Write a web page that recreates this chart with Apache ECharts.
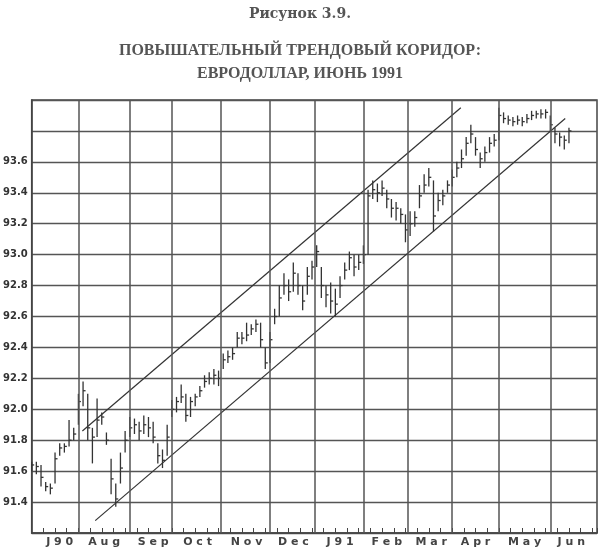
<!DOCTYPE html>
<html><head><meta charset="utf-8">
<script src="https://cdn.jsdelivr.net/npm/echarts@6/dist/echarts.min.js"></script>
<style>html,body{margin:0;padding:0;background:#fff}#c{width:600px;height:551px}</style>
</head><body><div id="c"></div>
<script>
// bar i sits at trading day 2*i
const closes = [91.64,91.63,91.56,91.50,91.49,91.68,91.75,91.76,91.80,91.84,92.05,92.12,91.88,91.82,91.93,91.95,91.80,91.55,91.42,91.62,
91.80,91.88,91.90,91.86,91.90,91.88,91.82,91.70,91.67,91.82,92.00,92.05,92.08,91.96,92.05,92.08,92.12,92.18,92.20,92.22,
92.20,92.32,92.34,92.36,92.46,92.46,92.48,92.52,92.55,92.45,92.30,92.45,92.60,92.72,92.80,92.76,92.88,92.80,92.70,92.86,
92.92,93.02,92.80,92.74,92.70,92.68,92.80,92.90,92.98,92.92,92.95,93.00,93.38,93.42,93.40,93.43,93.36,93.30,93.30,93.26,
93.16,93.20,93.24,93.38,93.45,93.50,93.25,93.35,93.38,93.45,93.50,93.56,93.62,93.72,93.78,93.68,93.62,93.66,93.72,93.74,
93.90,93.88,93.87,93.86,93.87,93.86,93.88,93.90,93.91,93.91,93.92,93.84,93.78,93.76,93.74,93.80];
const highs = [91.66,91.66,91.64,91.53,91.52,91.72,91.78,91.78,91.93,91.88,92.10,92.18,92.10,91.88,92.07,91.98,91.85,91.68,91.52,91.72,
91.86,91.95,91.94,91.92,91.96,91.95,91.92,91.78,91.74,91.90,92.06,92.08,92.16,92.10,92.08,92.10,92.15,92.22,92.24,92.26,
92.25,92.36,92.38,92.40,92.50,92.50,92.56,92.55,92.58,92.56,92.40,92.50,92.65,92.80,92.88,92.84,92.95,92.88,92.80,92.92,
92.96,93.06,92.92,92.80,92.82,92.78,92.86,92.95,93.02,93.00,93.00,93.06,93.42,93.48,93.46,93.48,93.42,93.36,93.34,93.30,
93.26,93.28,93.28,93.45,93.52,93.56,93.48,93.40,93.42,93.48,93.55,93.60,93.68,93.76,93.84,93.76,93.66,93.70,93.76,93.78,
93.95,93.92,93.90,93.89,93.90,93.89,93.91,93.93,93.93,93.94,93.94,93.90,93.82,93.79,93.77,93.82];
const lows = [91.60,91.58,91.50,91.47,91.45,91.52,91.70,91.72,91.76,91.80,91.90,92.02,91.80,91.65,91.82,91.90,91.77,91.45,91.37,91.52,
91.72,91.82,91.84,91.80,91.84,91.82,91.78,91.65,91.62,91.70,91.95,91.98,92.04,91.92,91.95,92.02,92.08,92.14,92.16,92.16,
92.15,92.26,92.30,92.32,92.40,92.42,92.44,92.48,92.50,92.40,92.26,92.30,92.55,92.60,92.74,92.70,92.76,92.74,92.64,92.74,
92.84,92.92,92.72,92.66,92.62,92.60,92.72,92.84,92.90,92.86,92.90,92.94,93.00,93.36,93.34,93.38,93.30,93.24,93.22,93.20,
93.08,93.12,93.18,93.30,93.40,93.44,93.15,93.28,93.32,93.40,93.44,93.50,93.56,93.64,93.72,93.64,93.56,93.60,93.66,93.70,
93.74,93.85,93.84,93.83,93.84,93.83,93.85,93.87,93.88,93.88,93.88,93.80,93.72,93.70,93.68,93.72];
const monthBounds = [20, 42, 60, 81, 102, 121, 142, 161, 180, 200, 222];
const monthLabels = ['J90','Aug','Sep','Oct','Nov','Dec','J91','Feb','Mar','Apr','May','Jun'];
const monthMids = [12, 31, 52, 71, 92, 112, 132, 152, 171, 190, 211, 231];
const upperChannel = [[21.7, 91.86], [183.7, 93.95]];
const lowerChannel = [[27.2, 91.28], [228.4, 93.88]];

const bars = closes.map((c, i) => [2 * i, highs[i], lows[i], c]);
const chart = echarts.init(document.getElementById('c'));
chart.setOption({
  animation: false,
  backgroundColor: '#fff',
  title: [
    {text: 'Рисунок 3.9.', left: 'center', top: 2, textStyle: {fontFamily: 'DejaVu Serif', fontSize: 14, fontWeight: 'bold', color: '#555'}},
    {text: 'ПОВЫШАТЕЛЬНЫЙ ТРЕНДОВЫЙ КОРИДОР:\nЕВРОДОЛЛАР, ИЮНЬ 1991', left: 'center', top: 34,
     textStyle: {fontFamily: 'Liberation Serif', fontSize: 16, fontWeight: 'bold', color: '#555', lineHeight: 23}}
  ],
  grid: {left: 29, right: 3, top: 100, bottom: 18, show: true, borderColor: '#444', borderWidth: 1.5},
  xAxis: {type: 'value', min: 0, max: 242, interval: 5,
    axisLine: {show: true, lineStyle: {color: '#444', width: 1.5}},
    axisTick: {show: true, inside: true, length: 5, lineStyle: {color: '#444'}},
    axisLabel: {show: false}, splitLine: {show: false}},
  yAxis: {type: 'value', min: 91.2, max: 94.0, interval: 0.2,
    axisLine: {show: true, lineStyle: {color: '#444', width: 1.5}}, axisTick: {show: false},
    splitLine: {lineStyle: {color: '#555', width: 1.3}},
    axisLabel: {margin: 4, color: '#333', fontFamily: 'DejaVu Sans', fontWeight: 'bold', fontSize: 10,
      formatter: v => (v < 91.35 || v > 93.65) ? '' : v.toFixed(1)}},
  series: [
    {type: 'custom', data: bars, encode: {x: 0, y: [1, 2, 3]},
     renderItem: (params, api) => {
       const hi = api.coord([api.value(0), api.value(1)]);
       const lo = api.coord([api.value(0), api.value(2)]);
       const cl = api.coord([api.value(0), api.value(3)]);
       const st = {stroke: '#333', lineWidth: 1.3};
       return {type: 'group', children: [
         {type: 'line', shape: {x1: hi[0], y1: hi[1], x2: lo[0], y2: lo[1]}, style: st},
         {type: 'line', shape: {x1: cl[0], y1: cl[1], x2: cl[0] + 2.5, y2: cl[1]}, style: st}
       ]};
     },
     markLine: {silent: true, symbol: 'none', label: {show: false},
       lineStyle: {color: '#555', type: 'solid', width: 1.5},
       data: monthBounds.map(v => ({xAxis: v}))}
    },
    {type: 'line', data: upperChannel, symbol: 'none', lineStyle: {color: '#333', width: 1.2}},
    {type: 'line', data: lowerChannel, symbol: 'none', lineStyle: {color: '#333', width: 1.2}},
    {type: 'custom', data: monthLabels.map((l, i) => [monthMids[i], 91.2, l]),
     renderItem: (params, api) => {
       const p = api.coord([api.value(0), 91.2]);
       return {type: 'text', x: p[0], y: p[1] + 9, style: {text: monthLabels[params.dataIndex].split('').join(' '),
         textAlign: 'center', textVerticalAlign: 'middle', fill: '#444',
         font: 'bold 11px "DejaVu Sans"'}};
     }, clip: false}
  ]
});
</script></body></html>
